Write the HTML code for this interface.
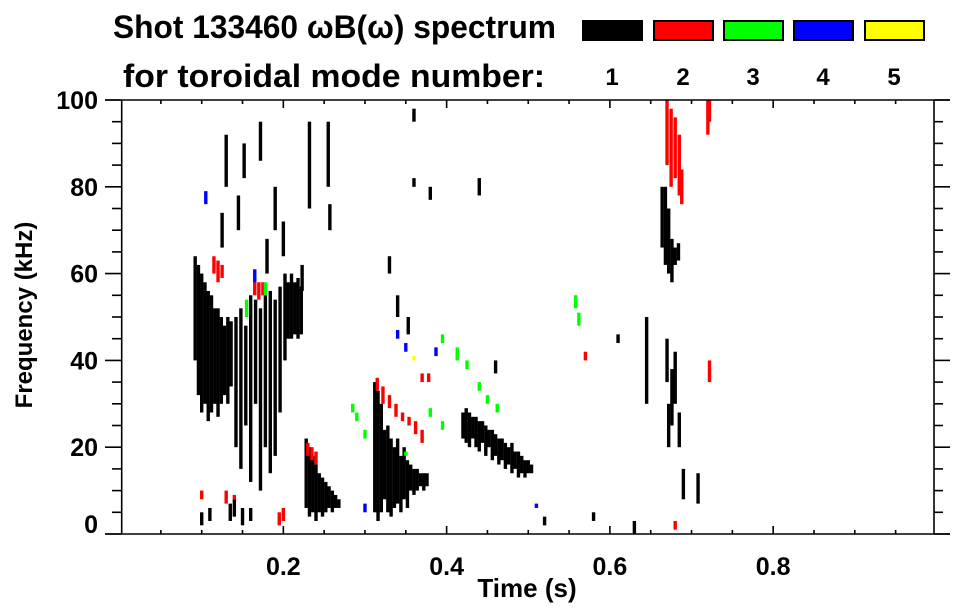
<!DOCTYPE html>
<html><head><meta charset="utf-8"><style>
html,body{margin:0;padding:0;background:#fff;}
svg{display:block;font-family:"Liberation Sans",sans-serif;font-weight:bold;}
</style></head><body>
<svg id="chart" width="963" height="615" viewBox="0 0 963 615">
<text x="113" y="38" font-size="32" textLength="443" lengthAdjust="spacingAndGlyphs">Shot 133460 ωB(ω) spectrum</text>
<text x="123" y="87" font-size="32" textLength="422" lengthAdjust="spacingAndGlyphs">for toroidal mode number:</text>
<g id="legend"></g>
<g id="marks"></g>
<g id="axes"></g>
<text x="527" y="597" font-size="26" text-anchor="middle">Time (s)</text>
<text transform="translate(32,315) rotate(-90)" font-size="24" text-anchor="middle">Frequency (kHz)</text>
</svg>
<script>
const modeLabels = ["1","2","3","4","5"];
const modeColors = ["#000000","#ff0000","#00ff00","#0000ff","#ffff00"];
const xTicks = [0.2,0.4,0.6,0.8];
const yTicks = [0,20,40,60,80,100];
// strokes: [time (s), freqLow (kHz), freqHigh (kHz)]
const mode1 = [
[0.092,40,64],[0.096,32,62],[0.100,28,60],[0.104,30,58],[0.108,26,56],[0.112,28,55],[0.116,30,52],[0.120,27,52],[0.124,30,50],[0.128,32,48],[0.132,30,50],[0.136,34,49],
[0.142,20,50],[0.148,15,52],[0.154,25,48],[0.160,12,55],[0.166,30,54],[0.172,10,52],[0.178,20,55],[0.184,14,56],[0.190,18,54],[0.196,28,57],[0.202,40,60],[0.206,45,58],[0.210,45,60],[0.214,46,58],[0.218,45,59],[0.222,46,57],
[0.100,2,5],[0.110,3,6],[0.135,3,7],[0.140,4,8],[0.150,2,6],[0.160,3,6],
[0.130,80,92],[0.125,66,74],[0.145,70,78],[0.180,60,68],[0.190,70,80],[0.232,75,95],[0.172,86,95],[0.223,56,62],[0.255,80,95],[0.257,70,76],[0.152,82,90],[0.200,64,72],
[0.228,6,22],[0.232,4,20],[0.236,5,18],[0.240,3,16],[0.244,5,14],[0.248,4,13],[0.252,5,12],[0.256,6,11],[0.260,5,10],[0.264,6,9],[0.268,6,8],
[0.312,5,35],[0.316,3,33],[0.320,5,30],[0.324,8,24],[0.328,5,25],[0.332,4,22],[0.336,6,20],[0.340,7,22],[0.344,5,18],[0.348,8,20],[0.352,6,17],[0.356,10,16],[0.360,9,15],[0.364,10,15],[0.368,11,14],[0.372,10,14],[0.376,11,14],
[0.420,22,28],[0.424,21,29],[0.428,20,28],[0.432,22,27],[0.436,20,27],[0.440,19,26],[0.444,21,26],[0.448,18,25],[0.452,20,24],[0.456,17,24],[0.460,18,23],[0.464,16,22],[0.468,17,22],[0.472,15,21],[0.476,16,20],[0.480,14,21],[0.484,15,19],[0.488,13,19],[0.492,14,18],[0.496,13,17],[0.500,14,17],[0.504,14,16],
[0.664,66,80],[0.668,62,80],[0.672,60,75],[0.676,58,68],[0.680,62,66],[0.684,63,67],
[0.670,35,45],[0.672,20,30],[0.676,25,38],[0.680,30,42],[0.685,20,28],[0.690,8,15],[0.708,7,14],[0.645,30,50],
[0.340,50,55],[0.353,46,50],[0.380,77,80],[0.440,78,82],[0.460,37,40],[0.580,3,5],[0.610,44,46],[0.360,80,82],[0.360,95,98],[0.520,2,4],[0.630,0,3],[0.330,60,64]
];
const mode2 = [
[0.115,60,64],[0.120,58,63],[0.125,59,62],[0.165,55,59],[0.170,54,58],[0.175,55,58],
[0.100,8,10],[0.130,7,10],[0.140,8,9],[0.195,2,5],[0.200,3,6],
[0.230,18,21],[0.235,17,20],[0.240,16,19],
[0.315,33,36],[0.322,30,34],[0.330,29,32],[0.338,27,30],[0.346,26,28],[0.354,25,27],[0.362,23,26],[0.370,21,24],
[0.370,35,37],[0.378,35,37],
[0.670,85,100],[0.675,80,98],[0.680,82,96],[0.685,78,92],[0.688,76,84],[0.720,92,100],[0.722,95,100],[0.680,1,3],[0.722,35,40],[0.570,40,42]
];
const mode3 = [
[0.155,50,54],[0.178,55,58],[0.285,28,30],[0.290,26,28],[0.300,22,24],
[0.395,44,46],[0.413,40,43],[0.425,38,40],[0.440,33,35],[0.450,30,32],[0.462,28,30],[0.395,24,26],[0.380,27,29],
[0.558,52,55],[0.562,48,51],[0.350,18,19]
];
const mode4 = [
[0.105,76,79],[0.165,58,61],[0.300,5,7],[0.340,45,47],[0.350,42,44],[0.387,41,43],[0.510,6,7]
];
const mode5 = [[0.360,40,41]];
const modes = [mode1,mode2,mode3,mode4,mode5];

const X0=121.7, X1=934, Y0=534, Y1=100, TMIN=0.002, TMAX=0.997;
const xs = t => X0 + (t-TMIN)/(TMAX-TMIN)*(X1-X0);
const ys = f => Y0 - f/100*(Y0-Y1);
const NS="http://www.w3.org/2000/svg";
function mk(tag, attrs){const e=document.createElementNS(NS,tag);for(const k in attrs)e.setAttribute(k,attrs[k]);return e;}

const lg=document.getElementById('legend');
const boxX=[582,653,723,793,864];
modeLabels.forEach((lab,i)=>{
  const r=mk('rect',{x:boxX[i]+1,y:21,width:59,height:19,fill:modeColors[i],stroke:'#000','stroke-width':2});
  
  
  lg.appendChild(r);
  const t=mk('text',{x:boxX[i]+30,y:85,'font-size':24,'text-anchor':'middle'});
  t.textContent=lab;
  
  
  lg.appendChild(t);
});

const mg=document.getElementById('marks');
modes.forEach((m,i)=>{
  m.forEach(s=>{
    const x=xs(s[0]), ya=ys(s[2]), yb=ys(s[1]);
    const r=mk('rect',{x:x-1.7,y:ya,width:3.4,height:Math.max(1.5,yb-ya),fill:modeColors[i]});
    
    
    mg.appendChild(r);
  });
});

const ax=document.getElementById('axes');
function line(x1,y1,x2,y2,name){const l=mk('line',{x1,y1,x2,y2,stroke:'#000','stroke-width':1.6});
  
  
  ax.appendChild(l);}
line(105,Y0,950,Y0,'x-axis-line');
line(105,Y1,950,Y1,'top-axis-line');
line(X0,Y1,X0,Y0,'y-axis-line');
line(X1,Y1,X1,Y0,'right-axis-line');
for(let k=1;k<20;k++){const t=k*0.05;const x=xs(t);if(x>X1)break;
  const major=(k%4===0);const len=major?8:4;
  line(x,Y0,x,Y0-len,'x-tick');line(x,Y1,x,Y1+len,'top-tick');}
for(let f=0;f<=100;f+=5){const y=ys(f);const major=(f%20===0);
  line(major?105:112,y,X0,y,'y-tick');line(X1,y,major?950:943,y,'right-tick');}
xTicks.forEach(v=>{const t=mk('text',{x:xs(v),y:575,'font-size':25,'text-anchor':'middle'});t.textContent=v.toFixed(1);
  
  
  ax.appendChild(t);});
yTicks.forEach(v=>{const y=Math.min(ys(v)+9,533);const t=mk('text',{x:98,y:y,'font-size':25,'text-anchor':'end'});t.textContent=v;
  
  
  ax.appendChild(t);});
</script>
</body></html>
